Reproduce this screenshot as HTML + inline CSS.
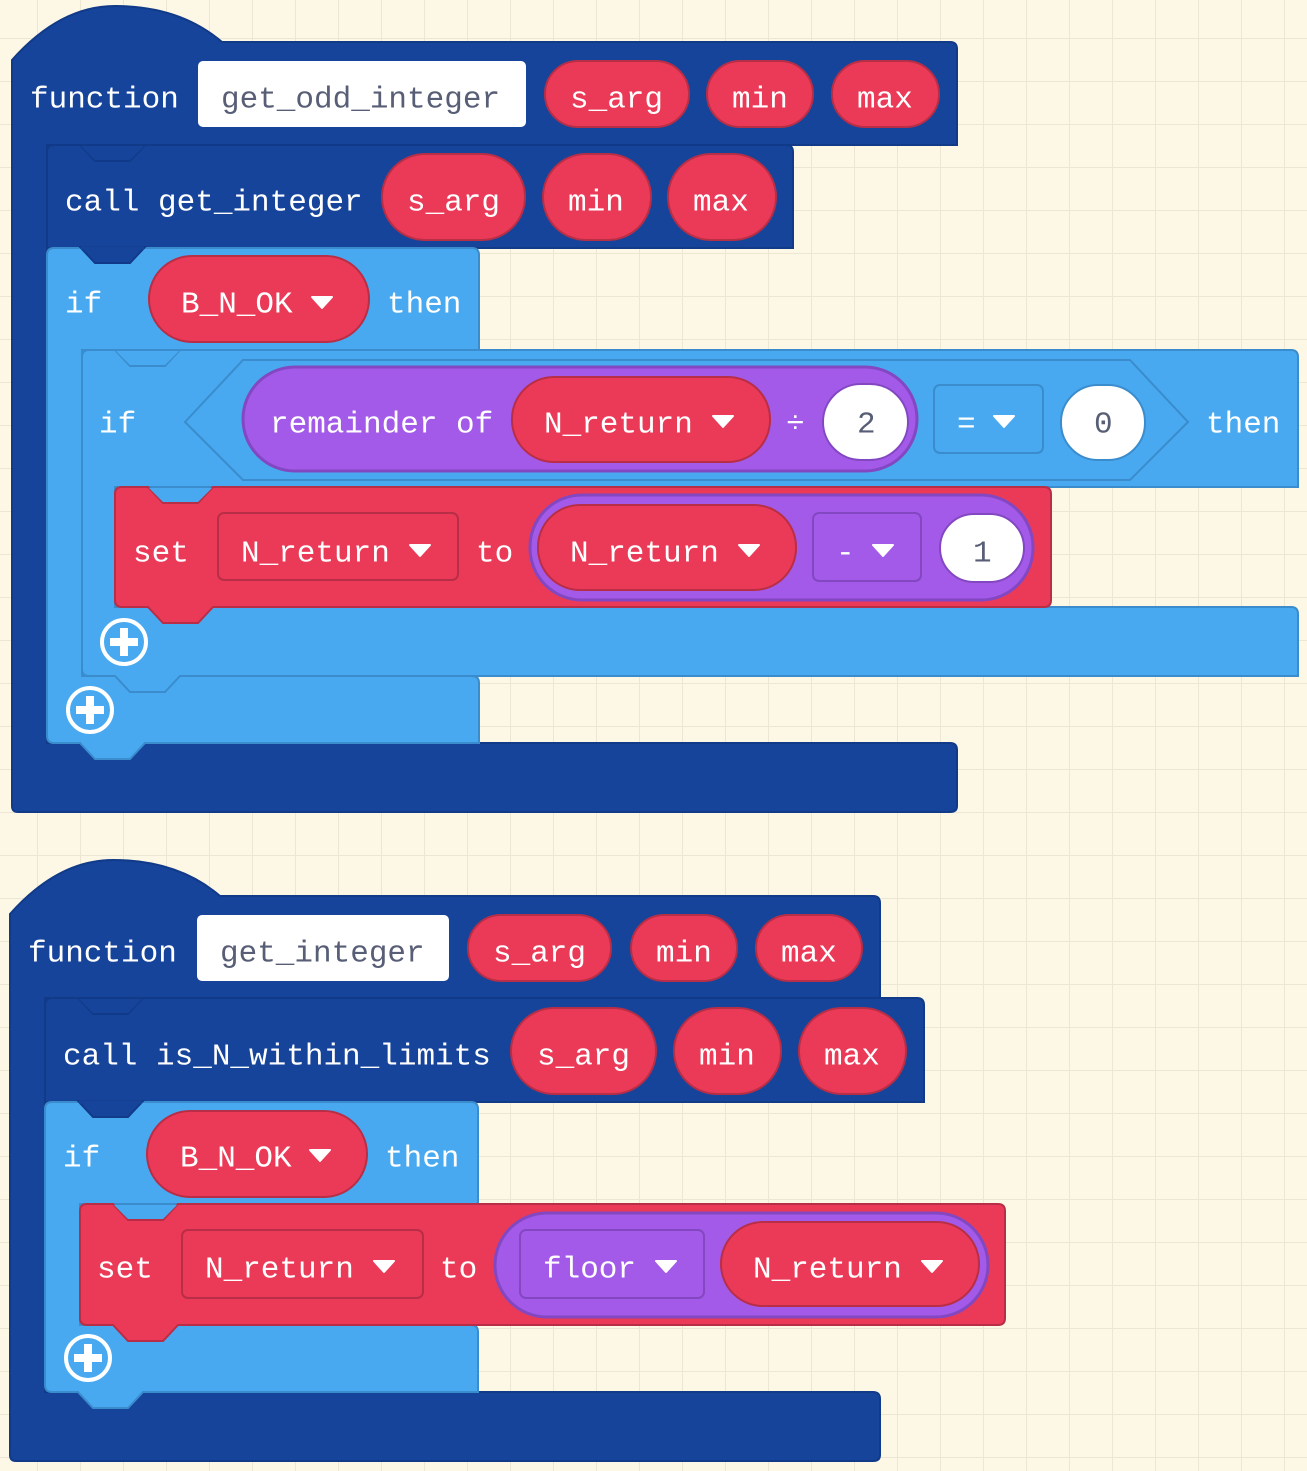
<!DOCTYPE html>
<html><head><meta charset="utf-8"><style>
html,body{margin:0;padding:0;width:1307px;height:1471px;overflow:hidden;background:#fdf7e5;}
body{background-color:#fdf7e5;background-image:linear-gradient(#ece6d3 1px,transparent 1px),linear-gradient(90deg,#ece6d3 1px,transparent 1px);background-size:43px 43px;background-position:-6px -5px;}
svg{position:absolute;left:0;top:0}
text{font-family:"Liberation Mono","DejaVu Sans Mono",monospace;font-size:31px;fill:#fff;dominant-baseline:central}
.d{fill:#575e75}
</style></head><body>
<svg width="1307" height="1471" viewBox="0 0 1307 1471">
<defs>
<g id="arr"><path d="M-10,-5 L10,-5 L0,6 Z" fill="#fff" stroke="#fff" stroke-width="2" stroke-linejoin="round"/></g>
<g id="plus"><circle r="22" fill="none" stroke="#fff" stroke-width="4"/><path d="M-4,-14h8v10h10v8h-10v10h-8v-10h-10v-8h10z" fill="#fff"/></g>
</defs>
<g transform="translate(0,3)" id="dummy"></g>

<!-- ========== FUNCTION 1 ========== -->
<path d="M12,60 Q60,6 115,6 Q180,6 222,42 L950,42 Q957,42 957,49 L957,145 L47,145 L47,743 L950,743 Q957,743 957,750 L957,806 Q957,812 950,812 L18,812 Q12,812 12,806 Z" fill="#16449b" stroke="#113a88" stroke-width="2"/>
<text x="30" y="100">function</text>
<rect x="198" y="61" width="328" height="66" rx="5" fill="#fff"/>
<text x="221" y="100" class="d">get_odd_integer</text>
<rect x="545" y="61" width="144" height="66" rx="33" fill="#eb3a57" stroke="#b82e46" stroke-width="2"/><text x="570" y="100">s_arg</text>
<rect x="707" y="61" width="106" height="66" rx="33" fill="#eb3a57" stroke="#b82e46" stroke-width="2"/><text x="732" y="100">min</text>
<rect x="832" y="61" width="107" height="66" rx="33" fill="#eb3a57" stroke="#b82e46" stroke-width="2"/><text x="857" y="100">max</text>

<!-- call block -->
<path d="M47,152 Q47,145 54,145 L80,145 L95,161 L130,161 L145,145 L786,145 Q793,145 793,152 L793,248 L47,248 Z" fill="#16449b" stroke="#113a88" stroke-width="2"/>
<path d="M81,146 L95,160 L130,160 L144,146 Z" fill="#16449b"/>
<text x="65" y="203">call get_integer</text>
<rect x="382" y="154" width="143" height="86" rx="43" fill="#eb3a57" stroke="#b82e46" stroke-width="2"/><text x="407" y="203">s_arg</text>
<rect x="543" y="154" width="108" height="86" rx="43" fill="#eb3a57" stroke="#b82e46" stroke-width="2"/><text x="568" y="203">min</text>
<rect x="668" y="154" width="108" height="86" rx="43" fill="#eb3a57" stroke="#b82e46" stroke-width="2"/><text x="693" y="203">max</text>

<!-- outer if -->
<path d="M47,255 Q47,248 54,248 L472,248 Q479,248 479,255 L479,350 L82,350 L82,676 L472,676 Q479,676 479,683 L479,743 L145,743 L130,759 L95,759 L80,743 L54,743 Q47,743 47,736 Z" fill="#48a9f0" stroke="#3a8ccc" stroke-width="2"/>
<path d="M80,247 L95,263 L130,263 L145,247 Z" fill="#16449b" stroke="#113a88" stroke-width="2"/>
<path d="M81,248 L144,248" stroke="#16449b" stroke-width="3"/>
<text x="65" y="305">if</text>
<rect x="149" y="256" width="220" height="86" rx="43" fill="#eb3a57" stroke="#b82e46" stroke-width="2"/><text x="181" y="305">B_N_OK</text><use href="#arr" x="322" y="302"/>
<text x="387" y="305">then</text>
<use href="#plus" x="90" y="710"/>

<!-- inner if -->
<path d="M82,357 Q82,350 89,350 L115,350 L130,366 L165,366 L180,350 L1291,350 Q1298,350 1298,357 L1298,487 L115,487 L115,607 L1291,607 Q1298,607 1298,614 L1298,676 L180,676 L165,692 L130,692 L115,676 L89,676 Q82,676 82,669 Z" fill="#48a9f0" stroke="#3a8ccc" stroke-width="2"/>
<path d="M116,351 L130,365 L165,365 L179,351 Z" fill="#48a9f0"/>
<text x="99" y="425">if</text>
<path d="M185,422 L243,360 L1130,360 L1188,422 L1130,480 L243,480 Z" fill="#48a9f0" stroke="#3a8ccc" stroke-width="2"/>
<rect x="243" y="367" width="674" height="104" rx="52" fill="#a35ae8" stroke="#8347c2" stroke-width="3"/>
<text x="270" y="425">remainder of</text>
<rect x="512" y="377" width="258" height="85" rx="42" fill="#eb3a57" stroke="#b82e46" stroke-width="2"/><text x="544" y="425">N_return</text><use href="#arr" x="723" y="421"/>
<text x="786" y="425">÷</text>
<rect x="823" y="384" width="85" height="76" rx="38" fill="#fff" stroke="#8347c2" stroke-width="2"/><text x="857" y="425" class="d">2</text>
<rect x="934" y="385" width="109" height="68" rx="6" fill="#48a9f0" stroke="#3a8ccc" stroke-width="2"/><text x="957" y="425">=</text><use href="#arr" x="1004" y="421"/>
<rect x="1061" y="385" width="84" height="75" rx="37" fill="#fff" stroke="#3a8ccc" stroke-width="2"/><text x="1094" y="425" class="d">0</text>
<text x="1206" y="425">then</text>
<use href="#plus" x="124" y="642"/>

<!-- set block 1 -->
<path d="M115,494 Q115,487 122,487 L148,487 L163,503 L198,503 L213,487 L1044,487 Q1051,487 1051,494 L1051,600 Q1051,607 1044,607 L213,607 L198,623 L163,623 L148,607 L122,607 Q115,607 115,600 Z" fill="#eb3a57" stroke="#b82e46" stroke-width="2"/>
<path d="M149,488 L163,502 L198,502 L212,488 Z" fill="#48a9f0"/>
<text x="133" y="554">set</text>
<rect x="218" y="513" width="240" height="67" rx="6" fill="#eb3a57" stroke="#b82e46" stroke-width="2"/><text x="241" y="554">N_return</text><use href="#arr" x="420" y="550"/>
<text x="476" y="554">to</text>
<rect x="530" y="495" width="503" height="105" rx="52" fill="#a35ae8" stroke="#8347c2" stroke-width="3"/>
<rect x="538" y="505" width="258" height="85" rx="42" fill="#eb3a57" stroke="#b82e46" stroke-width="2"/><text x="570" y="554">N_return</text><use href="#arr" x="749" y="550"/>
<rect x="813" y="513" width="108" height="68" rx="6" fill="#a35ae8" stroke="#8347c2" stroke-width="2"/><text x="836" y="554">-</text><use href="#arr" x="883" y="550"/>
<rect x="940" y="514" width="84" height="68" rx="34" fill="#fff" stroke="#8347c2" stroke-width="2"/><text x="973" y="554" class="d">1</text>

<!-- ========== FUNCTION 2 ========== -->
<path d="M10,914 Q58,860 113,860 Q178,860 220,896 L873,896 Q880,896 880,903 L880,998 L45,998 L45,1392 L873,1392 Q880,1392 880,1399 L880,1455 Q880,1461 873,1461 L16,1461 Q10,1461 10,1455 Z" fill="#16449b" stroke="#113a88" stroke-width="2"/>
<text x="28" y="954">function</text>
<rect x="197" y="915" width="252" height="66" rx="5" fill="#fff"/>
<text x="220" y="954" class="d">get_integer</text>
<rect x="468" y="915" width="143" height="66" rx="33" fill="#eb3a57" stroke="#b82e46" stroke-width="2"/><text x="493" y="954">s_arg</text>
<rect x="631" y="915" width="106" height="66" rx="33" fill="#eb3a57" stroke="#b82e46" stroke-width="2"/><text x="656" y="954">min</text>
<rect x="756" y="915" width="106" height="66" rx="33" fill="#eb3a57" stroke="#b82e46" stroke-width="2"/><text x="781" y="954">max</text>

<path d="M45,1005 Q45,998 52,998 L78,998 L93,1014 L128,1014 L143,998 L917,998 Q924,998 924,1005 L924,1102 L45,1102 Z" fill="#16449b" stroke="#113a88" stroke-width="2"/>
<path d="M79,999 L93,1013 L128,1013 L142,999 Z" fill="#16449b"/>
<text x="63" y="1057">call is_N_within_limits</text>
<rect x="511" y="1008" width="145" height="86" rx="43" fill="#eb3a57" stroke="#b82e46" stroke-width="2"/><text x="537" y="1057">s_arg</text>
<rect x="674" y="1008" width="107" height="86" rx="43" fill="#eb3a57" stroke="#b82e46" stroke-width="2"/><text x="699" y="1057">min</text>
<rect x="799" y="1008" width="107" height="86" rx="43" fill="#eb3a57" stroke="#b82e46" stroke-width="2"/><text x="824" y="1057">max</text>

<path d="M45,1109 Q45,1102 52,1102 L471,1102 Q478,1102 478,1109 L478,1204 L80,1204 L80,1325 L471,1325 Q478,1325 478,1332 L478,1392 L143,1392 L128,1408 L93,1408 L78,1392 L52,1392 Q45,1392 45,1385 Z" fill="#48a9f0" stroke="#3a8ccc" stroke-width="2"/>
<path d="M78,1101 L93,1117 L128,1117 L143,1101 Z" fill="#16449b" stroke="#113a88" stroke-width="2"/>
<path d="M79,1102 L142,1102" stroke="#16449b" stroke-width="3"/>
<text x="63" y="1159">if</text>
<rect x="147" y="1111" width="220" height="86" rx="43" fill="#eb3a57" stroke="#b82e46" stroke-width="2"/><text x="180" y="1159">B_N_OK</text><use href="#arr" x="320" y="1155"/>
<text x="385" y="1159">then</text>
<use href="#plus" x="88" y="1358"/>

<path d="M80,1211 Q80,1204 87,1204 L113,1204 L128,1220 L163,1220 L178,1204 L998,1204 Q1005,1204 1005,1211 L1005,1318 Q1005,1325 998,1325 L178,1325 L163,1341 L128,1341 L113,1325 L87,1325 Q80,1325 80,1318 Z" fill="#eb3a57" stroke="#b82e46" stroke-width="2"/>
<path d="M114,1205 L128,1219 L163,1219 L177,1205 Z" fill="#48a9f0"/>
<text x="97" y="1270">set</text>
<rect x="182" y="1230" width="241" height="68" rx="6" fill="#eb3a57" stroke="#b82e46" stroke-width="2"/><text x="205" y="1270">N_return</text><use href="#arr" x="384" y="1266"/>
<text x="440" y="1270">to</text>
<rect x="495" y="1213" width="493" height="104" rx="52" fill="#a35ae8" stroke="#8347c2" stroke-width="3"/>
<rect x="520" y="1230" width="184" height="68" rx="6" fill="#a35ae8" stroke="#8347c2" stroke-width="2"/><text x="543" y="1270">floor</text><use href="#arr" x="666" y="1266"/>
<rect x="721" y="1222" width="258" height="84" rx="42" fill="#eb3a57" stroke="#b82e46" stroke-width="2"/><text x="753" y="1270">N_return</text><use href="#arr" x="932" y="1266"/>
</svg>
</body></html>
